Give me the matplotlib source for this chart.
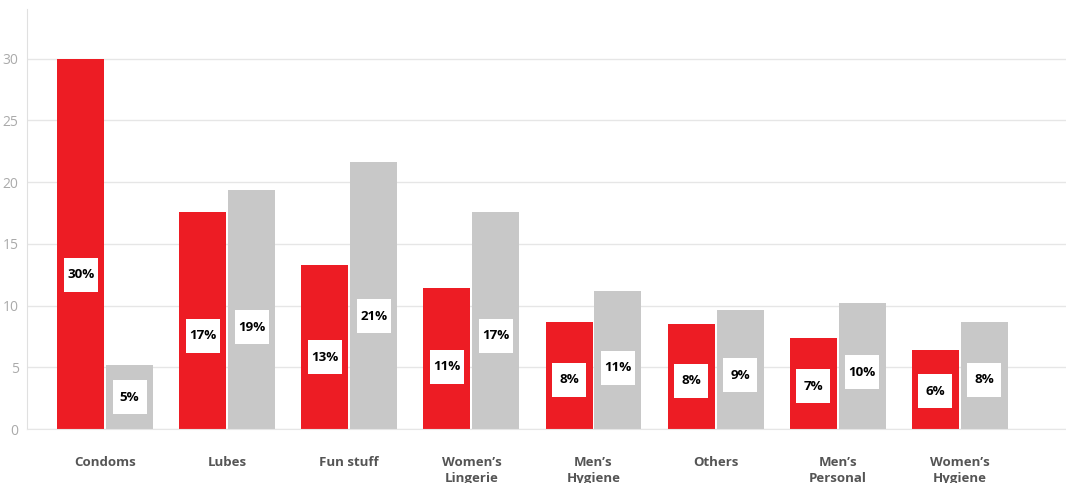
import matplotlib
matplotlib.use("Agg")
import matplotlib.pyplot as plt
import numpy as np

plt.rcParams["font.family"] = ["Open Sans", "DejaVu Sans"]

RED = "#ED1C24"
GREY = "#C8C8C8"

categories = ["Condoms", "Lubes", "Fun stuff", "Women\u2019s\nLingerie", "Men\u2019s\nHygiene",
              "Others", "Men\u2019s\nPersonal", "Women\u2019s\nHygiene"]
red_values = [30, 17.6, 13.3, 11.4, 8.7, 8.5, 7.4, 6.4]
grey_values = [5.2, 19.4, 21.6, 17.6, 11.2, 9.6, 10.2, 8.7]
red_labels = ["30%", "17%", "13%", "11%", "8%", "8%", "7%", "6%"]
grey_labels = ["5%", "19%", "21%", "17%", "11%", "9%", "10%", "8%"]

fig = plt.figure(figsize=(10.66, 4.83), dpi=100)
ax = fig.add_axes([0.0253, 0.1118, 0.9747, 0.869])

x = np.arange(len(categories))
w = 0.385
gap = 0.008
ax.bar(x - gap - w / 2, red_values, w, color=RED, zorder=2)
ax.bar(x + gap + w / 2, grey_values, w, color=GREY, zorder=2)

# white square tag with the percentage, a bit below mid-bar
def tags(xs, vals, lbls):
    ys = [0.4 * v + 0.5 for v in vals]
    ax.plot(xs, ys, "s", ms=24.5, mfc="white", mec="white", mew=0, zorder=3)
    for xi, yi, lbl in zip(xs, ys, lbls):
        ax.text(xi, yi, lbl, ha="center", va="center", fontsize=9.6,
                fontweight="bold", color="black", zorder=4)

tags(x - gap - w / 2, red_values, red_labels)
tags(x + gap + w / 2, grey_values, grey_labels)

ax.set_xlim(-0.64, 7.87)
ax.set_ylim(0, 34)
ax.set_yticks([0, 5, 10, 15, 20, 25, 30])
ax.set_xticks(x)
ax.set_xticklabels(categories, fontsize=9.5, fontweight="bold", color="#555555", linespacing=1.3)
ax.tick_params(axis="x", length=0, pad=19.5)
ax.tick_params(axis="y", length=0, pad=6, labelsize=10, labelcolor="#aaaaaa")

ax.grid(axis="y", color="#e6e6e6", lw=1, zorder=0)
ax.spines[["top", "right"]].set_visible(False)
ax.spines["left"].set_color("#e0e0e0")
ax.spines["bottom"].set_color("#e6e6e6")
ax.set_facecolor("white")

fig.savefig("out.png", dpi=100, facecolor="white")
